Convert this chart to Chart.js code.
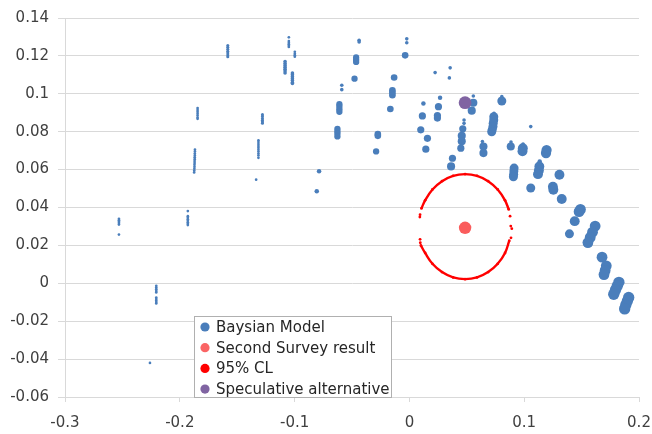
<!DOCTYPE html>
<html>
<head>
<meta charset="utf-8">
<script src="https://cdn.jsdelivr.net/npm/chart.js@4.4.1/dist/chart.umd.min.js"></script>
<style>
  html, body { margin: 0; padding: 0; background: #fff; }
  canvas { display: block; }
</style>
</head>
<body>
<canvas id="chart" width="652" height="434"></canvas>
<script>
// Data: [x, y, weight] (weight = relative marker size)
var bayesPoints = [
    [-0.253, 0.0340, 1], [-0.253, 0.0333, 1], [-0.253, 0.0325, 1], [-0.253, 0.0318, 1], [-0.253, 0.0310, 1], [-0.253, 0.0257, 1],
    [-0.193, 0.0381, 1], [-0.193, 0.0354, 1], [-0.193, 0.0346, 1], [-0.193, 0.0338, 1], [-0.193, 0.0330, 1], [-0.193, 0.0322, 1], [-0.193, 0.0314, 1], [-0.193, 0.0307, 1],
    [-0.2205, -0.0013, 1], [-0.2205, -0.0022, 1], [-0.2205, -0.0031, 1], [-0.2205, -0.0040, 1], [-0.2205, -0.0048, 1],
    [-0.2205, -0.0075, 1], [-0.2205, -0.0083, 1], [-0.2205, -0.0091, 1], [-0.2205, -0.0099, 1], [-0.2205, -0.0106, 1],
    [-0.226, -0.0420, 1],
    [-0.1868, 0.0705, 1], [-0.1868, 0.0695, 1], [-0.1869, 0.0685, 1], [-0.1869, 0.0675, 1], [-0.1870, 0.0665, 1], [-0.1870, 0.0655, 1], [-0.1871, 0.0645, 1],
    [-0.1871, 0.0635, 1], [-0.1872, 0.0625, 1], [-0.1872, 0.0615, 1], [-0.1873, 0.0605, 1], [-0.1874, 0.0595, 1], [-0.1875, 0.0585, 1],
    [-0.1845, 0.0925, 1], [-0.1845, 0.0915, 1], [-0.1845, 0.0905, 1], [-0.1845, 0.0895, 1], [-0.1845, 0.0885, 1], [-0.1845, 0.0875, 1], [-0.1845, 0.0868, 1],
    [-0.1582, 0.1255, 1.2], [-0.1582, 0.1245, 1.2], [-0.1582, 0.1235, 1.2], [-0.1582, 0.1225, 1.2], [-0.1582, 0.1215, 1.2], [-0.1582, 0.1205, 1.2], [-0.1582, 0.1196, 1.2],
    [-0.1315, 0.0755, 1], [-0.1315, 0.0745, 1], [-0.1315, 0.0735, 1], [-0.1315, 0.0725, 1], [-0.1315, 0.0715, 1], [-0.1315, 0.0705, 1], [-0.1315, 0.0695, 1],
    [-0.1315, 0.0685, 1], [-0.1315, 0.0675, 1], [-0.1315, 0.0662, 1],
    [-0.128, 0.0890, 1.2], [-0.128, 0.0880, 1.2], [-0.128, 0.0870, 1.2], [-0.128, 0.0860, 1.2], [-0.128, 0.0852, 1.2], [-0.128, 0.0845, 1.2],
    [-0.1335, 0.0547, 1],
    [-0.105, 0.1298, 1], [-0.105, 0.1278, 1], [-0.105, 0.1270, 1], [-0.105, 0.1262, 1], [-0.105, 0.1254, 1], [-0.105, 0.1247, 1],
    [-0.0998, 0.1222, 1], [-0.0998, 0.1212, 1], [-0.0998, 0.1204, 1], [-0.0998, 0.1196, 1],
    [-0.1083, 0.1170, 1.5], [-0.1083, 0.1160, 1.5], [-0.1083, 0.1150, 1.5], [-0.1083, 0.1140, 1.5], [-0.1083, 0.1130, 1.5], [-0.1083, 0.1120, 1.5], [-0.1083, 0.1110, 1.5],
    [-0.1019, 0.1110, 1.5], [-0.1019, 0.1100, 1.5], [-0.1019, 0.1090, 1.5], [-0.1019, 0.1080, 1.5], [-0.1019, 0.1070, 1.5], [-0.1019, 0.1060, 1.5], [-0.1019, 0.1055, 1.5],
    [-0.0787, 0.0591, 2], [-0.0807, 0.0486, 2],
    [-0.0438, 0.1282, 1.5], [-0.0438, 0.1274, 1.5],
    [-0.0464, 0.1192, 3], [-0.0464, 0.1180, 3], [-0.0464, 0.1168, 3],
    [-0.0478, 0.1080, 3],
    [-0.0589, 0.1045, 1.5], [-0.0589, 0.1022, 1.5],
    [-0.0610, 0.0945, 3], [-0.0610, 0.0932, 3], [-0.0610, 0.0918, 3], [-0.0610, 0.0905, 3],
    [-0.0627, 0.0815, 3], [-0.0627, 0.0803, 3], [-0.0627, 0.0790, 3], [-0.0627, 0.0775, 3],
    [-0.0275, 0.0788, 3.2], [-0.0275, 0.0778, 3.2],
    [-0.0290, 0.0696, 3],
    [-0.0023, 0.1290, 1.5], [-0.0023, 0.1269, 1.5],
    [-0.0037, 0.1203, 3.2],
    [-0.0133, 0.1086, 3.2],
    [-0.0148, 0.1018, 3.2], [-0.0148, 0.1005, 3.2], [-0.0148, 0.0993, 3.2],
    [-0.0166, 0.0920, 3.2],
    [0.0224, 0.1112, 1.5], [0.0355, 0.1137, 1.5], [0.0348, 0.1084, 1.5],
    [0.0122, 0.0949, 2],
    [0.0113, 0.0883, 3.5],
    [0.0099, 0.0810, 3.5],
    [0.0157, 0.0765, 3.5],
    [0.0143, 0.0708, 3.5],
    [0.0267, 0.0979, 2],
    [0.0253, 0.0932, 3.5],
    [0.0244, 0.0885, 3.5], [0.0244, 0.0872, 3.5],
    [0.0557, 0.0988, 1.5],
    [0.0557, 0.0953, 4],
    [0.0543, 0.0911, 4],
    [0.0476, 0.0862, 1.5], [0.0476, 0.0844, 1.5],
    [0.0465, 0.0815, 3.5],
    [0.0456, 0.0779, 4], [0.0456, 0.0750, 4],
    [0.0448, 0.0713, 3.5],
    [0.0375, 0.0660, 3.5],
    [0.0363, 0.0617, 4],
    [0.0805, 0.0985, 1.5], [0.0805, 0.0962, 4.5],
    [0.0737, 0.0897, 1.5],
    [0.0735, 0.0879, 4.5], [0.0735, 0.0862, 4.5], [0.0730, 0.0845, 4.5], [0.0728, 0.0828, 4.5], [0.0722, 0.0811, 4.5], [0.0717, 0.0800, 4.5],
    [0.0636, 0.0748, 1.5], [0.0645, 0.0722, 4], [0.0645, 0.0687, 4],
    [0.1057, 0.0827, 1.5],
    [0.0885, 0.0745, 1.5], [0.0883, 0.0722, 4],
    [0.0990, 0.0735, 1.5], [0.0988, 0.0713, 5], [0.0985, 0.0697, 5],
    [0.1195, 0.0717, 1.5], [0.1195, 0.0703, 5.2], [0.1190, 0.0687, 5.2],
    [0.0912, 0.0608, 4.5], [0.0910, 0.0592, 4.5], [0.0908, 0.0575, 4.5], [0.0906, 0.0562, 4.5],
    [0.1057, 0.0503, 4.5],
    [0.1135, 0.0643, 2], [0.1132, 0.0617, 5], [0.1128, 0.0595, 5], [0.1120, 0.0576, 5],
    [0.1307, 0.0573, 5],
    [0.1250, 0.0510, 5], [0.1254, 0.0494, 5],
    [0.1327, 0.0445, 5],
    [0.1490, 0.0390, 5.5], [0.1478, 0.0378, 5.5],
    [0.1440, 0.0328, 5],
    [0.1394, 0.0261, 4.5],
    [0.1618, 0.0302, 5.5], [0.1595, 0.0270, 5.5], [0.1575, 0.0242, 5.5], [0.1555, 0.0215, 5.5],
    [0.1678, 0.0138, 5.5], [0.1715, 0.0092, 5.5], [0.1705, 0.0068, 5.5], [0.1695, 0.0046, 5.5],
    [0.1825, 0.0005, 5.8], [0.1810, -0.0015, 5.8], [0.1795, -0.0035, 5.8], [0.1780, -0.0058, 5.8],
    [0.1910, -0.0075, 5.8], [0.1898, -0.0095, 5.8], [0.1885, -0.0115, 5.8], [0.1875, -0.0135, 5.8]
];

var surveyPoint = [0.0485, 0.0293];
var speculativePoint = [0.0485, 0.0953];

// 95% confidence ellipse
var clTopArc = [
    [0.0105, 0.0395], [0.0137, 0.0438], [0.0201, 0.0495], [0.0284, 0.0539], [0.0381, 0.0567], [0.0485, 0.0576],
    [0.0589, 0.0567], [0.0686, 0.0539], [0.0769, 0.0495], [0.0833, 0.0438], [0.0865, 0.0390]
];
var clBottomArc = [
    [0.0100, 0.0200], [0.0137, 0.0160], [0.0201, 0.0103], [0.0284, 0.0059], [0.0381, 0.0031], [0.0485, 0.0022],
    [0.0589, 0.0031], [0.0686, 0.0059], [0.0769, 0.0103], [0.0833, 0.0160], [0.0870, 0.0225]
];
var clSideDots = [
    [0.0093, 0.0362], [0.0091, 0.0350], [0.0093, 0.0232], [0.0095, 0.0214],
    [0.0877, 0.0354], [0.0883, 0.0302], [0.0892, 0.0288], [0.0885, 0.0240]
];

var seriesLabels = ["Baysian Model", "Second Survey result", "95% CL", "Speculative alternative"];

var xMin = -0.3, xMax = 0.2, xStep = 0.1;
var yMin = -0.06, yMax = 0.14, yStep = 0.02;

var toXY = function (p) { return { x: p[0], y: p[1] }; };
var gap = { x: null, y: null };

// 95% CL data: arcs joined by a line, side dots left on their own
var clData = clTopArc.map(toXY).concat([gap], clBottomArc.map(toXY));
clSideDots.forEach(function (p) { clData.push(gap, toXY(p)); });

var fontFamily = "'DejaVu Sans', sans-serif";

// Legend drawn inside the plot, bottom-left, with a frame
var insideLegend = {
    id: 'insideLegend',
    afterDraw: function (chart) {
        var ctx = chart.ctx;
        var area = chart.chartArea;
        var rowH = 20.7;
        var left = area.left + 129;
        var width = 197;
        var height = 81;
        var top = area.bottom - height;
        ctx.save();
        ctx.fillStyle = '#ffffff';
        ctx.fillRect(left, top, width, height);
        ctx.strokeStyle = '#b0b0b0';
        ctx.lineWidth = 1;
        ctx.strokeRect(left + 0.5, top + 0.5, width, height);
        ctx.font = '15px ' + fontFamily;
        ctx.textBaseline = 'middle';
        chart.data.datasets.forEach(function (ds, i) {
            var cy = top + 11 + i * rowH;
            ctx.beginPath();
            ctx.fillStyle = ds.legendColor;
            ctx.arc(left + 11, cy, 4.6, 0, Math.PI * 2);
            ctx.fill();
            ctx.fillStyle = '#262626';
            ctx.fillText(ds.label, left + 22, cy + 1);
        });
        ctx.restore();
    }
};

var ctx = document.getElementById('chart').getContext('2d');
var myChart = new Chart(ctx, {
    type: 'scatter',
    data: {
        datasets: [{
            label: seriesLabels[0],
            data: bayesPoints.map(toXY),
            pointBackgroundColor: '#4a7ebb',
            legendColor: '#4a7ebb',
            pointBorderWidth: 0,
            pointRadius: function (c) {
                var p = bayesPoints[c.dataIndex];
                return p ? 0.9 * p[2] + 0.45 : 2;
            },
            pointHoverRadius: function (c) {
                var p = bayesPoints[c.dataIndex];
                return p ? 0.9 * p[2] + 0.45 : 2;
            },
            order: 3
        }, {
            label: seriesLabels[1],
            data: [toXY(surveyPoint)],
            pointBackgroundColor: '#fa5c5c',
            legendColor: '#fa6464',
            pointBorderWidth: 0,
            pointRadius: 6.2,
            order: 1
        }, {
            label: seriesLabels[2],
            data: clData,
            showLine: true,
            spanGaps: false,
            tension: 0.4,
            borderColor: '#ff0000',
            borderWidth: 2.4,
            pointBackgroundColor: '#ff0000',
            legendColor: '#ff0000',
            pointBorderWidth: 0,
            pointRadius: 1.4,
            order: 2
        }, {
            label: seriesLabels[3],
            data: [toXY(speculativePoint)],
            pointBackgroundColor: '#8064a2',
            legendColor: '#8064a2',
            pointBorderWidth: 0,
            pointRadius: 6.4,
            order: 0
        }]
    },
    options: {
        responsive: false,
        animation: false,
        layout: { padding: { left: 0, right: 13, top: 16, bottom: 0 } },
        plugins: {
            legend: { display: false },
            tooltip: { enabled: false }
        },
        scales: {
            x: {
                type: 'linear',
                min: xMin,
                max: xMax,
                ticks: {
                    stepSize: xStep,
                    color: '#404040',
                    padding: 12,
                    font: { family: fontFamily, size: 15 },
                    callback: function (v) { return String(+v.toFixed(2)); }
                },
                grid: { drawOnChartArea: false, drawTicks: true, tickLength: 5, color: '#d9d9d9' },
                border: { display: true, color: '#d9d9d9' },
                afterFit: function (s) {
                    s.height = 37;
                    s.paddingLeft = 0;
                    s.paddingRight = 13;
                }
            },
            y: {
                min: yMin,
                max: yMax,
                ticks: {
                    stepSize: yStep,
                    color: '#404040',
                    padding: 9,
                    font: { family: fontFamily, size: 15 },
                    callback: function (v) { return String(+v.toFixed(2)); }
                },
                grid: { color: '#d9d9d9', tickLength: 7 },
                border: { display: true, color: '#d9d9d9' },
                afterFit: function (s) { s.width = 65; }
            }
        }
    },
    plugins: [insideLegend]
});
</script>
</body>
</html>
